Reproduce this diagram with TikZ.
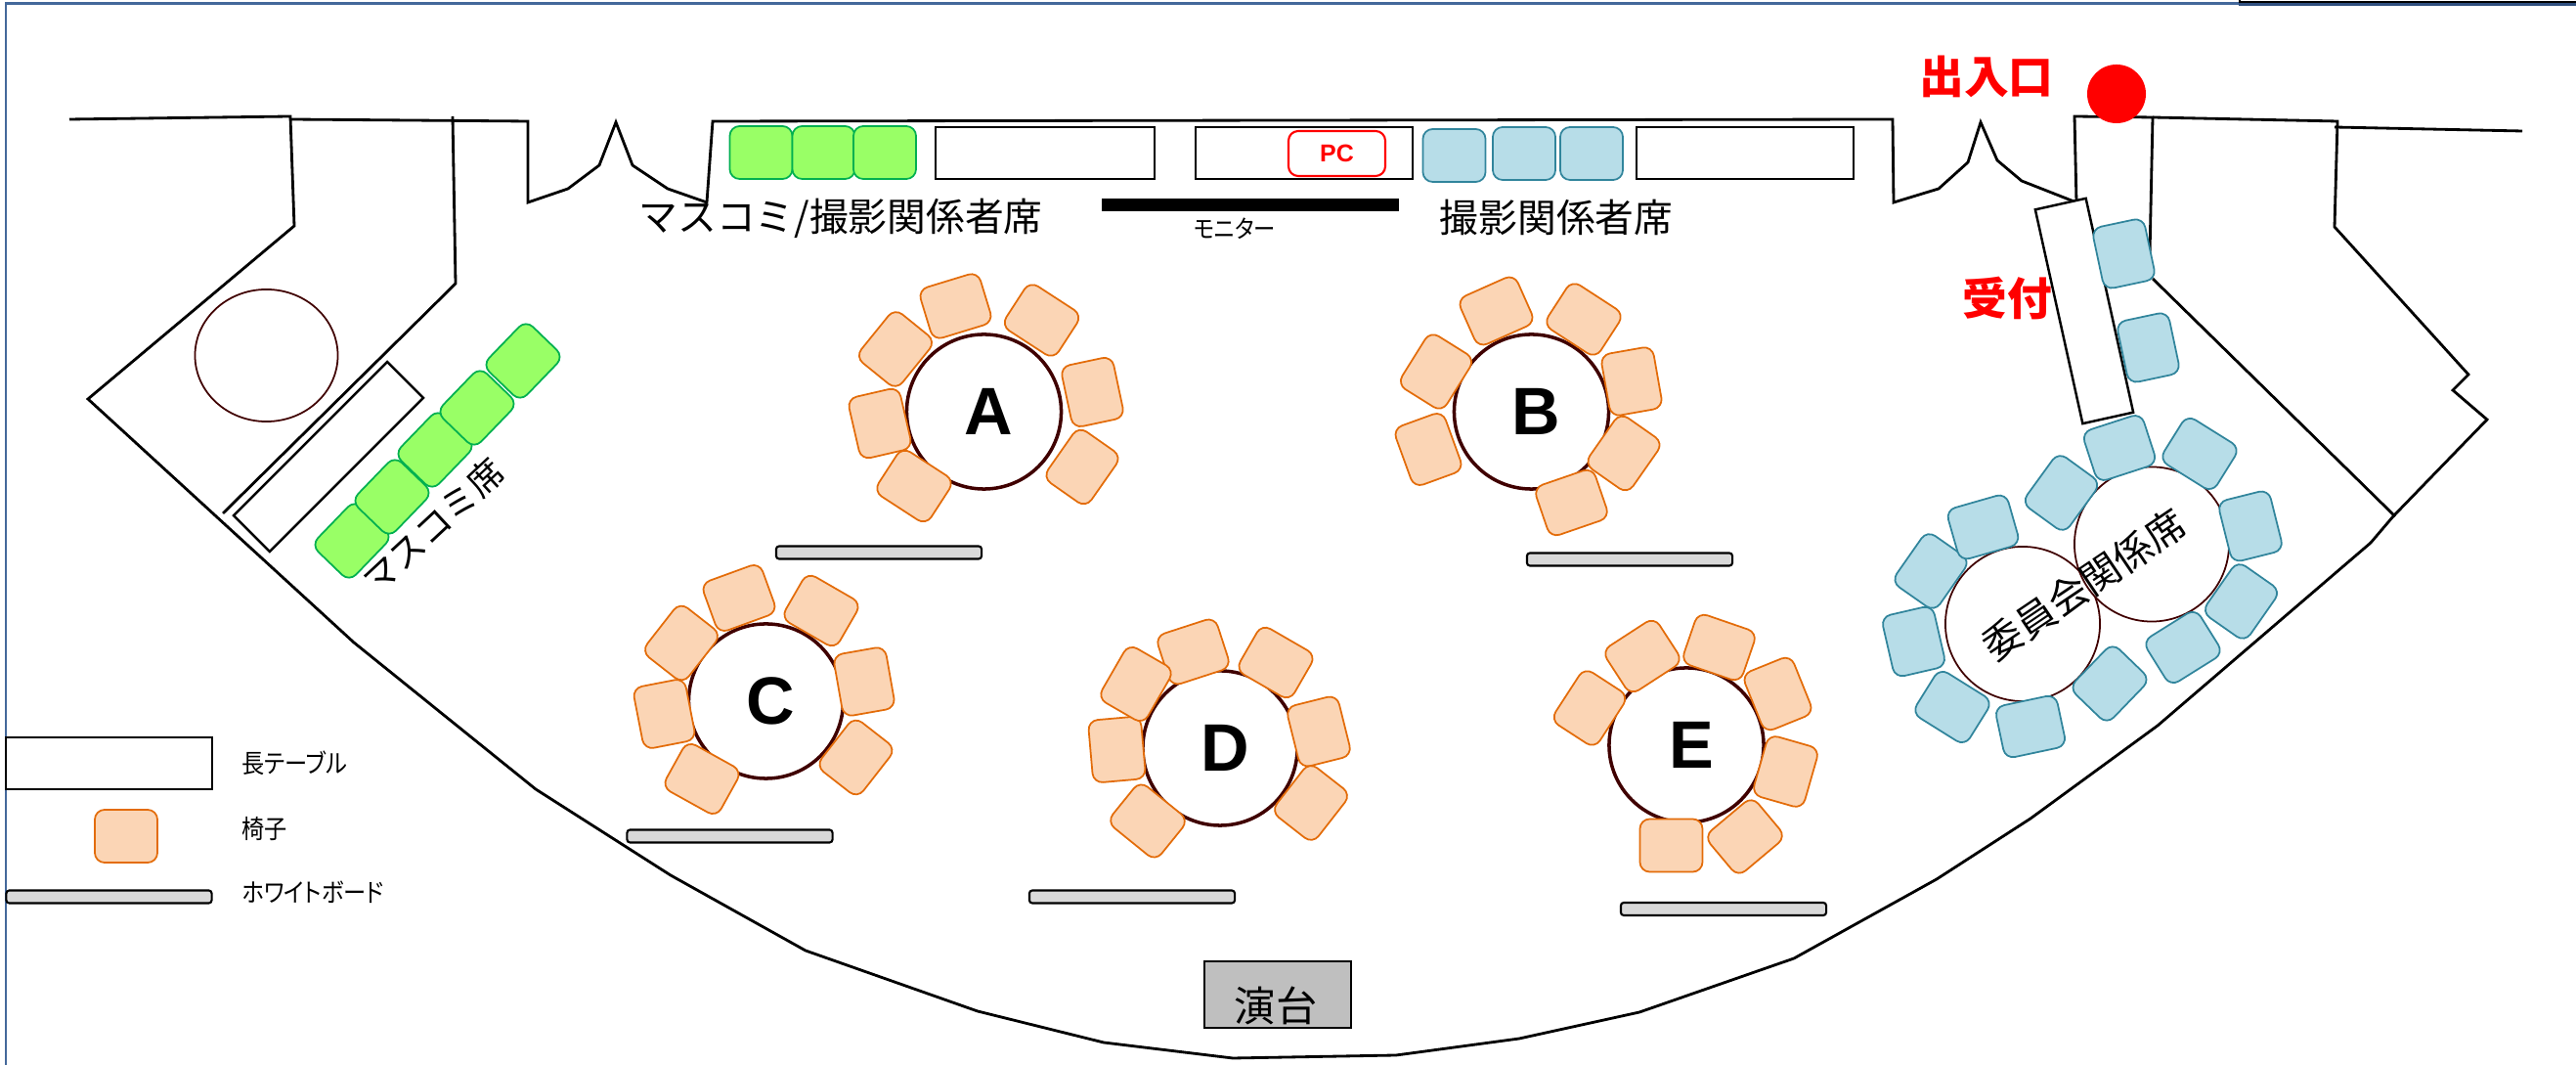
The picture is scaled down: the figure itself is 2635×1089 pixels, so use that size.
\documentclass[tikz,border=0pt]{standalone}
\usepackage{fontspec}
\setmainfont{Liberation Sans}
\newfontfamily\jpfont{Noto Sans CJK JP}
\newfontfamily\jpnarrow[RawFeature=+palt]{Noto Sans CJK JP}
\usetikzlibrary{positioning, shapes.geometric}
\definecolor{ColorFrame}{HTML}{44689B}
\definecolor{ColorFrameB}{HTML}{2F4F7F}
\definecolor{ColorRim}{HTML}{400000}
\definecolor{ColorO}{HTML}{FBD5B5}
\definecolor{ColorOL}{HTML}{E36C09}
\definecolor{ColorG}{HTML}{99FF66}
\definecolor{ColorGL}{HTML}{00B050}
\definecolor{ColorB}{HTML}{B7DDE8}
\definecolor{ColorBL}{HTML}{31859C}
\begin{document}
\begin{tikzpicture}[x=0.01cm,y=-0.01cm,
wall/.style={
	draw,
	line width=0.8pt,
	line join=miter},
chair/.style={
	rectangle,
	draw,
	rounded corners=1mm,
	minimum width=0.64cm,
	minimum height=0.54cm,
	inner sep=0mm,
	line width=0.5pt},
chairO/.style={
	chair,
	fill=ColorO,
	draw=ColorOL},
chairG/.style={
	chair,
	fill=ColorG,
	draw=ColorGL},
chairB/.style={
	chair,
	fill=ColorB,
	draw=ColorBL},
longtable/.style={
	rectangle,
	draw,
	fill=white,
	inner sep=0mm,
	line width=0.7pt},
board/.style={
	rectangle,
	draw,
	fill=black!15,
	rounded corners=0.3mm,
	minimum width=2.1cm,
	minimum height=0.13cm,
	inner sep=0mm,
	line width=0.6pt},
roundtable/.style={
	circle,
	draw=ColorRim,
	fill=white,
	minimum size=1.58cm,
	inner sep=0mm,
	line width=1pt},
letter/.style={
	font=\fontsize{19.5}{20}\selectfont\bfseries,
	inner sep=0mm},
jplabel/.style={
	font=\jpfont\fontsize{11.3}{12}\selectfont,
	inner sep=0mm},
redlabel/.style={
	font=\jpfont\bfseries\fontsize{13}{14}\selectfont,
	text=red,
	inner sep=0mm},
legendlabel/.style={
	font=\jpnarrow\fontsize{7.5}{8}\selectfont,
	xscale=0.88,
	transform shape,
	anchor=west,
	inner sep=0mm}]

\useasboundingbox (0,0) rectangle (2635,1089);

%Frame
\draw[line width=0.85pt, ColorFrame] (6,1089) -- (6,4) -- (2290,4);
\draw[line width=1pt, ColorFrameB] (2290,4) -- (2635,4);
\draw[line width=0.7pt] (2291,0) -- (2291,2) -- (2635,2);

%Walls
\draw[wall] (71,122) -- (297,119) -- (301,231) -- (90,408) -- (362,657) -- (548,807) -- (686,895) -- (824,972) -- (1000,1034) -- (1129,1066) -- (1261,1082) -- (1428,1079) -- (1554,1062) -- (1677,1035) -- (1835,980) -- (1981,899) -- (2077,837) -- (2207,742) -- (2425,555) -- (2448,528) -- (2544,429) -- (2509,399) -- (2525,383) -- (2388,232) -- (2391,124) -- (2202,120);
\draw[wall] (297,122) -- (540,124) -- (540,207) -- (581,193) -- (613,169) -- (630,125) -- (647,169) -- (683,193) -- (723,207) -- (729,124) -- (1936,122) -- (1937,207) -- (1983,193) -- (2013,166) -- (2026,125) -- (2043,164) -- (2068,185) -- (2124,207) -- (2122,119) -- (2202,120) -- (2199,260);
\draw[wall] (463,119) -- (466,290) -- (228,525);
\draw[wall] (2202,285) -- (2450,528);
\draw[wall] (2388,130) -- (2580,134);

%Labels under the chairs
\node[jplabel, font=\jpfont\fontsize{10.3}{11}\selectfont, rotate=43] (pressLabel) at (443,538) {マスコミ席};
\node[jplabel] (mediaLabel) at (860,223) {マスコミ/撮影関係者席};
\node[jplabel] (photoLabel) at (1592,222) {撮影関係者席};
\node[font=\jpnarrow\fontsize{7.2}{8}\selectfont, xscale=0.88, transform shape, inner sep=0mm] (monitorLabel) at (1263,234) {モニター};

%Long tables
\node[longtable, minimum width=2.24cm, minimum height=0.53cm] (tableMedia) at (1069,156.5) {};
\node[longtable, minimum width=2.22cm, minimum height=0.53cm] (tablePC) at (1334,156.5) {};
\node[longtable, minimum width=2.22cm, minimum height=0.53cm] (tablePhoto) at (1785,156.5) {};
\node[longtable, rotate=45, minimum width=2.22cm, minimum height=0.52cm] (tablePress) at (336,467) {};
\node[longtable, rotate=-77.5, minimum width=2.24cm, minimum height=0.53cm] (tableDesk) at (2132,318) {};
\node[rectangle, draw=red, rounded corners=1mm, fill=white, line width=0.6pt, minimum width=0.99cm, minimum height=0.46cm, inner sep=0mm, text=red, font=\fontsize{7.1}{8}\selectfont\bfseries] (PC) at (1367.5,157) {PC};
\node[rectangle, fill=black, minimum width=3.04cm, minimum height=0.13cm, inner sep=0mm] (monitor) at (1279,209.5) {};

%Round tables
\node[ellipse, draw=ColorRim, line width=0.5pt, minimum width=1.46cm, minimum height=1.35cm, inner sep=0mm] (tablePlain) at (272.5,363.5) {};
\foreach \n/\x/\y in {A/1006.5/421, B/1566.5/421, C/783.5/717, D/1248/765, E/1725/762} {
	\node[roundtable] (table\n) at (\x,\y) {};
	\node[letter] (letter\n) at ({\x+5},\y) {\n};
}
\node[roundtable, line width=0.5pt] (tableK1) at (2069,638) {};
\node[roundtable, line width=0.5pt] (tableK2) at (2201,556.5) {};
\node[font=\jpfont\fontsize{11.4}{12}\selectfont, rotate=34, inner sep=0mm] (committee) at (2132,598) {委員会関係席};

%Whiteboards
\foreach \n/\x/\y in {A/899/565, B/1667/572, C/746.5/855, D/1158/917, E/1763/929.5} {
	\node[board] (board\n) at (\x,\y) {};
}

%Chairs
\foreach \x/\y/\r [count=\i] in {977.5/313/17, 1065.5/327.5/-33, 1117.5/401/-78, 1107/477.5/55, 935/497/-33, 900/433/-77, 916/357/51} {
	\node[chairO, rotate=\r] (chairA\i) at (\x,\y) {};
}
\foreach \x/\y/\r [count=\i] in {1530.5/318/24, 1620/326.5/-33, 1669/390/-80, 1661/463.5/55, 1607.5/514/19, 1461/459.5/-70, 1469/380/58} {
	\node[chairO, rotate=\r] (chairB\i) at (\x,\y) {};
}
\foreach \x/\y/\r [count=\i] in {756/611.5/20, 840/624.5/-30, 884/697/-80, 875.5/774.5/52, 718/796.5/-29, 679.5/730/-79, 697/657.5/52} {
	\node[chairO, rotate=\r] (chairC\i) at (\x,\y) {};
}
\foreach \x/\y/\r [count=\i] in {1220.5/666.5/18, 1305/677.5/-30, 1349/748/-76, 1341/821/52, 1174/839.5/-39, 1142.5/766.5/-85, 1162/699.5/60} {
	\node[chairO, rotate=\r] (chairD\i) at (\x,\y) {};
}
\foreach \x/\y/\r [count=\i] in {1680/671/33, 1758.5/662/-19, 1818.5/709.5/-68, 1826.5/789/74, 1785/855.5/40, 1709.5/864.5/0, 1626/724/57} {
	\node[chairO, rotate=\r] (chairE\i) at (\x,\y) {};
}
\foreach \x/\y/\r [count=\i] in {778.5/156/0, 842.5/156/0, 905/156/0, 360/553/46, 401/508/46, 445/460/46, 488/417/46, 535/369/46} {
	\node[chairG, rotate=\r] (chairP\i) at (\x,\y) {};
}
\foreach \x/\y/\r [count=\i] in {1487.5/159/0, 1559/157/0, 1628/157/0, 2172.5/259.5/-78, 2197.5/355.5/-78} {
	\node[chairB, rotate=\r] (chairS\i) at (\x,\y) {};
}
\foreach \x/\y/\r [count=\i] in {2168/458/18, 2250/464/-32, 2302/538/-76, 2292.5/615/55, 2233/662/32, 2158/699/46, 2077/743/12, 1997/723/-32, 1957.5/656/-77, 1975/584/55, 2028.5/539/16, 2108.5/504/54} {
	\node[chairB, rotate=\r] (chairK\i) at (\x,\y) {};
}

%Entrance and desk
\node[circle, fill=red, minimum size=0.6cm, inner sep=0mm] (entrance) at (2165,96) {};
\node[redlabel] (entranceLabel) at (2032,78) {出入口};
\node[redlabel] (deskLabel) at (2053,305) {受付};

%Stage
\node[rectangle, draw, fill=black!25, line width=0.8pt, minimum width=1.5cm, minimum height=0.68cm, inner sep=0mm] (stage) at (1307,1017) {};
\node[jplabel, font=\jpfont\fontsize{12}{13}\selectfont] (stageLabel) at (1305,1028) {演台};

%Legend
\node[longtable, minimum width=2.11cm, minimum height=0.53cm] (legendTable) at (111.5,780.5) {};
\node[chairO, rotate=0] (legendChair) at (129,855) {};
\node[board] (legendBoard) at (111.5,917) {};
\node[legendlabel] (legendTableLabel) at (247,780) {長テーブル};
\node[legendlabel] (legendChairLabel) at (247,848) {椅子};
\node[legendlabel] (legendBoardLabel) at (247,912) {ホワイトボード};
\end{tikzpicture}
\end{document}
